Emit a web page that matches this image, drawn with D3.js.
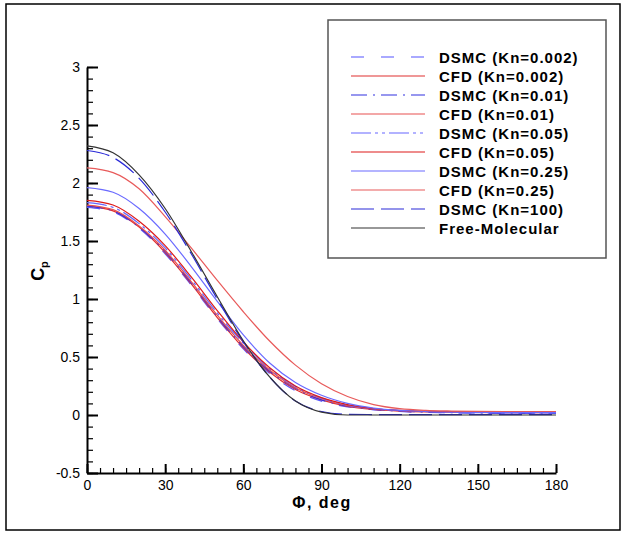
<html lang="en">
<head>
<meta charset="UTF-8">
<title>Cp vs Phi</title>
<script src="https://d3js.org/d3.v7.min.js"></script>
<style>
  body { margin: 0; background: #fff; }
  text { font-family: "Liberation Sans", Arial, sans-serif; }
</style>
</head>
<body>
<div id="chart"></div>
<script>
var phi = [0, 10, 20, 30, 40, 50, 60, 70, 80, 90, 100, 110, 120, 130, 140, 150, 160, 170, 180];

var dsmc0002 = [1.79, 1.75, 1.61, 1.39, 1.12, 0.83, 0.57, 0.36, 0.21, 0.12, 0.07, 0.045, 0.03, 0.022, 0.019, 0.017, 0.016, 0.015, 0.015];
var cfd0002  = [1.80, 1.76, 1.62, 1.40, 1.13, 0.84, 0.58, 0.37, 0.22, 0.13, 0.075, 0.048, 0.034, 0.027, 0.024, 0.022, 0.021, 0.02, 0.02];
var dsmc001  = [1.80, 1.76, 1.62, 1.41, 1.14, 0.85, 0.59, 0.38, 0.23, 0.13, 0.078, 0.05, 0.034, 0.025, 0.02, 0.018, 0.017, 0.016, 0.016];
var cfd001   = [1.81, 1.77, 1.63, 1.42, 1.15, 0.86, 0.60, 0.39, 0.235, 0.14, 0.08, 0.052, 0.037, 0.03, 0.027, 0.025, 0.024, 0.024, 0.024];
var dsmc005  = [1.83, 1.79, 1.65, 1.44, 1.17, 0.88, 0.62, 0.40, 0.245, 0.145, 0.085, 0.055, 0.038, 0.028, 0.023, 0.02, 0.019, 0.018, 0.018];
var cfd005   = [1.85, 1.81, 1.67, 1.46, 1.19, 0.90, 0.63, 0.41, 0.25, 0.15, 0.09, 0.056, 0.04, 0.032, 0.028, 0.026, 0.025, 0.025, 0.025];
var dsmc025  = [1.96, 1.92, 1.78, 1.56, 1.28, 0.98, 0.69, 0.45, 0.28, 0.17, 0.10, 0.06, 0.04, 0.03, 0.025, 0.022, 0.02, 0.02, 0.02];
var cfd025   = [2.13, 2.09, 1.95, 1.71, 1.44, 1.16, 0.89, 0.64, 0.43, 0.27, 0.16, 0.09, 0.055, 0.04, 0.034, 0.031, 0.03, 0.03, 0.03];
var dsmc100  = [2.28, 2.22, 2.04, 1.75, 1.39, 1.00, 0.63, 0.33, 0.12, 0.03, 0.006, 0.004, 0.003, 0.003, 0.003, 0.003, 0.003, 0.003, 0.003];
var freeMol  = [2.32, 2.26, 2.07, 1.78, 1.41, 1.02, 0.64, 0.33, 0.12, 0.025, 0, 0, 0, 0, 0, 0, 0, 0, 0];

var seriesNames = ["DSMC (Kn=0.002)", "CFD (Kn=0.002)", "DSMC (Kn=0.01)", "CFD (Kn=0.01)", "DSMC (Kn=0.05)",
                   "CFD (Kn=0.05)", "DSMC (Kn=0.25)", "CFD (Kn=0.25)", "DSMC (Kn=100)", "Free-Molecular"];
var seriesValues = [dsmc0002, cfd0002, dsmc001, cfd001, dsmc005, cfd005, dsmc025, cfd025, dsmc100, freeMol];
var seriesColors = ["#5555ff", "#e03030", "#3030e0", "#e85050", "#6666ff", "#dd1a1a", "#6a6aff", "#e85a5a", "#2a2ad8", "#333333"];
var seriesDash = ["13,17", null, "16,6,2,6", null, "20,4,3,4,3,4", null, null, null, "23,7", null];

var xTicks = [0, 30, 60, 90, 120, 150, 180];
var yTicks = [-0.5, 0, 0.5, 1, 1.5, 2, 2.5, 3];

var width = 626, height = 533;
var svg = d3.select("#chart").append("svg")
    .attr("width", width)
    .attr("height", height);

// outer frame
svg.append("rect")
    .attr("x", 6).attr("y", 4)
    .attr("width", 614).attr("height", 526)
    .attr("fill", "none").attr("stroke", "#000").attr("stroke-width", 1.5);

var xScale = d3.scaleLinear().domain([0, 180]).range([87, 556]);
var yScale = d3.scaleLinear().domain([-0.5, 3]).range([473, 67]);

// minor ticks
svg.append("g")
    .attr("transform", "translate(0," + yScale(-0.5) + ")")
    .call(d3.axisBottom(xScale).tickValues(d3.range(0, 181, 5)).tickSize(-5).tickFormat(""))
    .call(function(g){ g.select(".domain").remove(); g.selectAll("line").attr("stroke-width", 1.2); });
svg.append("g")
    .attr("transform", "translate(" + xScale(0) + ",0)")
    .call(d3.axisLeft(yScale).tickValues(d3.range(-5, 31, 1).map(function(d){ return d / 10; })).tickSize(-6).tickFormat(""))
    .call(function(g){ g.select(".domain").remove(); g.selectAll("line").attr("stroke-width", 1.2); });

// major axes
var xAxis = svg.append("g")
    .attr("transform", "translate(0," + yScale(-0.5) + ")")
    .call(d3.axisBottom(xScale).tickValues(xTicks).tickSizeInner(-9).tickSizeOuter(0).tickPadding(5));
var yAxis = svg.append("g")
    .attr("transform", "translate(" + xScale(0) + ",0)")
    .call(d3.axisLeft(yScale).tickValues(yTicks).tickSizeInner(-11).tickSizeOuter(0).tickPadding(7)
        .tickFormat(function(d){ return String(d); }));

[xAxis, yAxis].forEach(function(g){
    g.select(".domain").attr("stroke-width", 2);
    g.selectAll("line").attr("stroke-width", 2);
    g.selectAll("text").attr("font-size", 14).attr("font-family", "Liberation Sans, Arial, sans-serif").attr("fill", "#000");
});
xAxis.selectAll("text").attr("dy", "0.85em");

// curves
var line = d3.line()
    .x(function(d){ return xScale(d[0]); })
    .y(function(d){ return yScale(d[1]); })
    .curve(d3.curveMonotoneX);

seriesValues.forEach(function(vals, i){
    svg.append("path")
        .datum(phi.map(function(p, j){ return [p, vals[j]]; }))
        .attr("fill", "none")
        .attr("stroke", seriesColors[i])
        .attr("stroke-width", 1.2)
        .attr("stroke-dasharray", seriesDash[i])
        .attr("d", line);
});

// axis titles
svg.append("text")
    .attr("x", 322).attr("y", 508)
    .attr("text-anchor", "middle")
    .attr("font-size", 16).attr("font-weight", "bold")
    .attr("letter-spacing", 1.5)
    .text("\u03A6, deg");

var yl = svg.append("text")
    .attr("transform", "translate(44,271) rotate(-90)")
    .attr("text-anchor", "middle")
    .attr("font-size", 18).attr("font-weight", "bold");
yl.append("tspan").text("C");
yl.append("tspan").attr("font-size", 11).attr("dy", 4).text("p");

// legend
var legend = svg.append("g");
legend.append("rect")
    .attr("x", 328).attr("y", 20)
    .attr("width", 278).attr("height", 238)
    .attr("fill", "#fff").attr("stroke", "#555").attr("stroke-width", 1.5);

seriesNames.forEach(function(name, i){
    var y = 57 + i * 19;
    legend.append("line")
        .attr("x1", 351).attr("x2", 425)
        .attr("y1", y).attr("y2", y)
        .attr("stroke", seriesColors[i])
        .attr("stroke-width", 1.2)
        .attr("stroke-dasharray", seriesDash[i]);
    legend.append("text")
        .attr("x", 439).attr("y", y + 5.5)
        .attr("font-size", 15).attr("font-weight", "bold")
        .attr("letter-spacing", 1)
        .text(name);
});
</script>
</body>
</html>
